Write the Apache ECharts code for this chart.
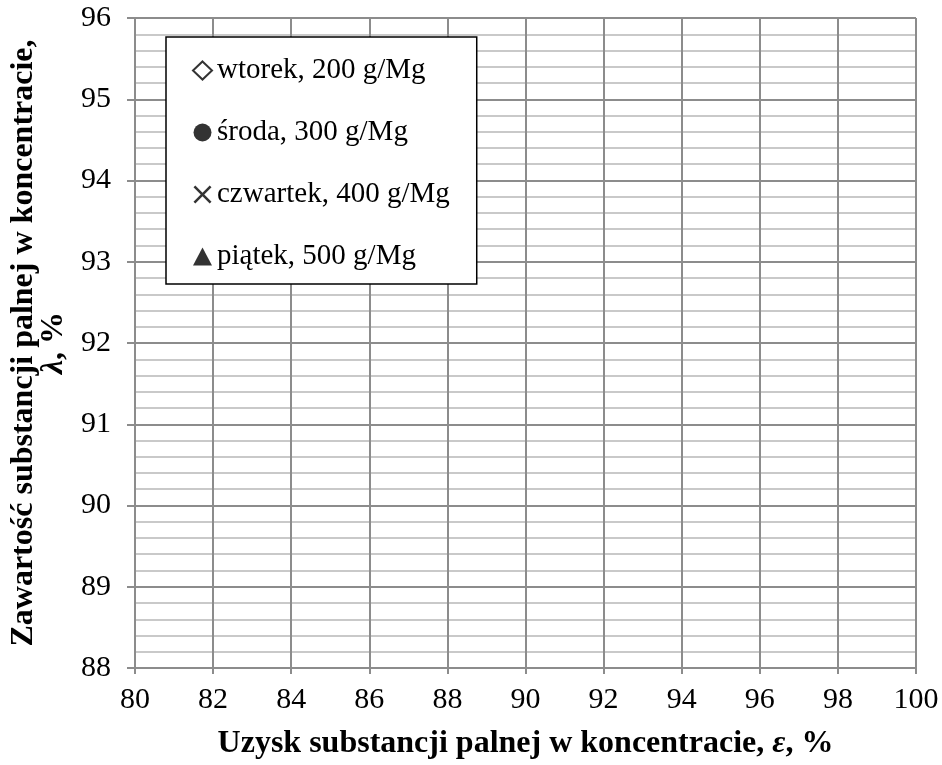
<!DOCTYPE html>
<html>
<head>
<meta charset="utf-8">
<script src="https://cdn.jsdelivr.net/npm/echarts@6/dist/echarts.min.js"></script>
<style>
  html, body { margin: 0; padding: 0; background: #fff; }
  #chart { width: 942px; height: 765px; }
</style>
</head>
<body>
<div id="chart"></div>
<script>
// Serie pomiarowe – na wykresie nie ma żadnych punktów, tylko legenda
const seriesNames = ['wtorek, 200 g/Mg', 'środa, 300 g/Mg', 'czwartek, 400 g/Mg', 'piątek, 500 g/Mg'];
const wtorek = [];
const sroda = [];
const czwartek = [];
const piatek = [];

// zakresy osi
const xRange = [80, 100];
const xStep = 2;
const yRange = [88, 96];
const yStep = 1;

const FONT = '"Liberation Serif", "DejaVu Serif", serif';
const GRID_MAJOR = '#8c8c8c';
const GRID_MINOR = '#b8b8b8';

// krzyżyk jako wypełniony wielokąt
const crossPath = 'path://M0,1L1,0L5,4L9,0L10,1L6,5L10,9L9,10L5,6L1,10L0,9L4,5Z';

const chart = echarts.init(document.getElementById('chart'), null, { renderer: 'canvas' });

chart.setOption({
  animation: false,
  backgroundColor: '#fff',
  grid: { left: 133, right: 26, top: 18, bottom: 97 },
  legend: {
    orient: 'vertical',
    left: 166,
    top: 37,
    padding: [19, 27, 13, 26],
    itemWidth: 19,
    itemHeight: 18,
    itemGap: 33,
    borderColor: '#000',
    borderWidth: 1.5,
    backgroundColor: '#fff',
    textStyle: { fontFamily: FONT, fontSize: 29, lineHeight: 28, color: '#000' },
    data: [
      { name: seriesNames[0], icon: 'diamond', itemStyle: { color: '#fff', borderColor: '#000', borderWidth: 2 } },
      { name: seriesNames[1], icon: 'circle', itemStyle: { color: '#000' } },
      { name: seriesNames[2], icon: crossPath, itemStyle: { color: '#000' } },
      { name: seriesNames[3], icon: 'triangle', itemStyle: { color: '#000' } }
    ]
  },
  xAxis: {
    type: 'value',
    min: xRange[0],
    max: xRange[1],
    interval: xStep,
    name: '{b|Uzysk substancji palnej w koncentracie, }{i|ε}{b|, %}',
    nameLocation: 'middle',
    nameGap: 60,
    nameTextStyle: {
      rich: {
        b: { fontFamily: FONT, fontSize: 32, fontWeight: 'bold', color: '#000' },
        i: { fontFamily: FONT, fontSize: 32, fontWeight: 'bold', fontStyle: 'italic', color: '#000' }
      }
    },
    axisLine: { show: true, lineStyle: { color: GRID_MAJOR, width: 2 } },
    axisTick: { show: true, length: 6, lineStyle: { color: GRID_MAJOR, width: 2 } },
    axisLabel: { fontFamily: FONT, fontSize: 30, color: '#000', margin: 17 },
    splitLine: { show: true, lineStyle: { color: GRID_MAJOR, width: 2 } }
  },
  yAxis: {
    type: 'value',
    min: yRange[0],
    max: yRange[1],
    interval: yStep,
    name: '{b|Zawartość substancji palnej w koncentracie,}\n{i|λ}{b|, %}',
    nameLocation: 'middle',
    nameRotate: 90,
    nameGap: 66,
    nameTextStyle: {
      align: 'center',
      lineHeight: 30,
      rich: {
        b: { fontFamily: FONT, fontSize: 32, fontWeight: 'bold', color: '#000', lineHeight: 30 },
        i: { fontFamily: FONT, fontSize: 32, fontWeight: 'bold', fontStyle: 'italic', color: '#000', lineHeight: 30 }
      }
    },
    axisLine: { show: true, lineStyle: { color: GRID_MAJOR, width: 2 } },
    axisTick: { show: true, length: 8, lineStyle: { color: GRID_MAJOR, width: 2 } },
    axisLabel: { fontFamily: FONT, fontSize: 30, color: '#000', margin: 24 },
    splitLine: { show: true, lineStyle: { color: GRID_MAJOR, width: 2 } },
    minorTick: { show: false, splitNumber: 5 },
    minorSplitLine: { show: true, lineStyle: { color: GRID_MINOR, width: 1.5 } }
  },
  series: [
    { name: seriesNames[0], type: 'scatter', data: wtorek, symbol: 'diamond', symbolSize: 14,
      itemStyle: { color: '#fff', borderColor: '#000', borderWidth: 2 } },
    { name: seriesNames[1], type: 'scatter', data: sroda, symbol: 'circle', symbolSize: 14,
      itemStyle: { color: '#000' } },
    { name: seriesNames[2], type: 'scatter', data: czwartek, symbol: crossPath, symbolSize: 14,
      itemStyle: { color: '#000' } },
    { name: seriesNames[3], type: 'scatter', data: piatek, symbol: 'triangle', symbolSize: 14,
      itemStyle: { color: '#000' } }
  ]
});
</script>
</body>
</html>
